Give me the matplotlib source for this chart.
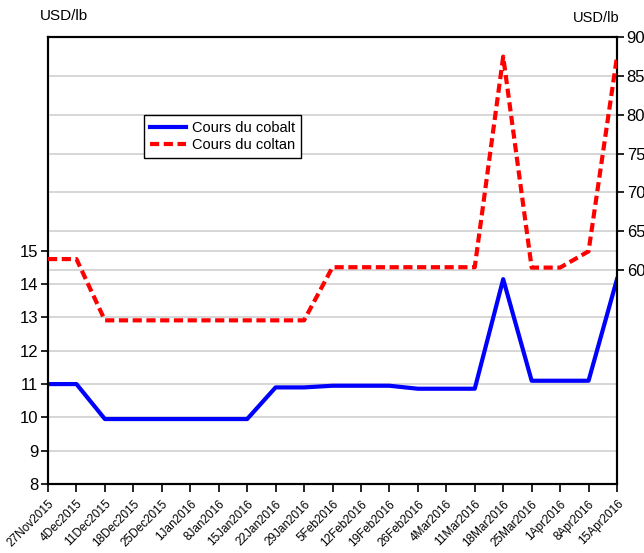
import numpy as np
import matplotlib.pyplot as plt

plt.rcParams['font.family'] = ['Liberation Sans', 'DejaVu Sans']

# weekly dates
dates = ['27Nov2015', '4Dec2015', '11Dec2015', '18Dec2015', '25Dec2015', '1Jan2016',
         '8Jan2016', '15Jan2016', '22Jan2016', '29Jan2016', '5Feb2016', '12Feb2016',
         '19Feb2016', '26Feb2016', '4Mar2016', '11Mar2016', '18Mar2016', '25Mar2016',
         '1Apr2016', '8Apr2016', '15Apr2016']

# Cours du cobalt (USD/lb, axe gauche)
cobalt = [11.0, 11.0, 9.95, 9.95, 9.95, 9.95, 9.95, 9.95, 10.9, 10.9, 10.95,
          10.95, 10.95, 10.86, 10.86, 10.86, 14.15, 11.1, 11.1, 11.1, 14.15]

# Cours du coltan (USD/lb, axe droit)
coltan = [61.4, 61.4, 53.5, 53.5, 53.5, 53.5, 53.5, 53.5, 53.5, 53.5, 60.35,
          60.35, 60.35, 60.35, 60.35, 60.35, 87.5, 60.3, 60.3, 62.4, 87.5]

left_ticks = [8, 9, 10, 11, 12, 13, 14, 15]
right_ticks = [60, 65, 70, 75, 80, 85, 90]

x = np.arange(len(dates))

fig = plt.figure(figsize=(6.44, 5.53), dpi=100)
ax = fig.add_axes([48 / 644, 1 - 484 / 553, 569 / 644, 447 / 553])
ax2 = ax.twinx()

ax.set_ylim(8, 21.42)
ax2.set_ylim(32.4, 90.03)
ax.set_xlim(0, len(dates) - 1)

# gridlines for both axes
for v in left_ticks:
    ax.axhline(v, color='#d0d0d0', lw=1.2, zorder=0)
for v in right_ticks:
    ax2.axhline(v, color='#d0d0d0', lw=1.2, zorder=0)

l1, = ax.plot(x, cobalt, color='#0000ff', lw=3, label='Cours du cobalt', zorder=3)
l2, = ax2.plot(x, coltan, color='#ff0000', lw=3, ls=(0, (2.2, 1.1)), label='Cours du coltan', zorder=3)

ax.set_yticks(left_ticks)
ax2.set_yticks(right_ticks)
ax.set_xticks(x)
ax.set_xticklabels(dates, rotation=45, ha='right', rotation_mode='anchor', fontsize=8.5)

ax.tick_params(axis='y', labelsize=12, direction='out', length=5, width=1.2, pad=2)
ax2.tick_params(axis='y', labelsize=12, direction='out', length=5, width=1.2, pad=2)
ax.tick_params(axis='x', direction='out', length=6, width=1.2, pad=4)

for a in (ax, ax2):
    for s in a.spines.values():
        s.set_linewidth(1.5)
        s.set_color('black')

fig.text(40 / 644, 1 - 16 / 553, 'USD/lb', fontsize=11, va='center', ha='left')
fig.text(573 / 644, 1 - 18 / 553, 'USD/lb', fontsize=10.5, va='center', ha='left')

leg = ax2.legend([l1, l2], ['Cours du cobalt', 'Cours du coltan'],
                 loc='upper left', bbox_to_anchor=(144 / 644, 1 - 115 / 553),
                 bbox_transform=fig.transFigure, fontsize=10.5, frameon=True,
                 fancybox=False, edgecolor='black', framealpha=1,
                 handlelength=2.5, borderpad=0.4, labelspacing=0.25, handletextpad=0.4,
                 borderaxespad=0)
leg.get_frame().set_linewidth(1.0)

fig.savefig('out.png', dpi=100)
